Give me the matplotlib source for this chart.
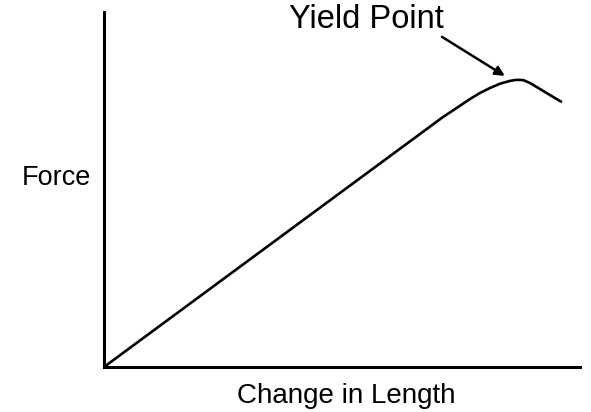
import matplotlib
matplotlib.use("Agg")
import matplotlib.pyplot as plt

plt.rcParams['font.family'] = ['Liberation Sans', 'DejaVu Sans']

# curve (arbitrary units)
length = [0.0, 7.12, 7.48, 7.69, 7.90, 8.11, 8.32, 8.53, 8.67, 8.81, 8.95, 9.16, 9.37, 9.62]
force = [0.0, 7.04, 7.36, 7.55, 7.72, 7.86, 7.98, 8.06, 8.09, 8.08, 8.00, 7.83, 7.66, 7.46]
arrow_tail = (7.10, 9.30)
arrow_head = (8.42, 8.20)

fig = plt.figure(figsize=(5.91, 4.12), dpi=100)
ax = fig.add_axes([104/591, 45/412, 476/591, 355/412])
ax.plot(length, force, color='black', lw=1.9, solid_joinstyle='round',
        solid_capstyle='butt')
ax.set_xlim(0, 10)
ax.set_ylim(0, 10)
for s in ['top', 'right']:
    ax.spines[s].set_visible(False)
for s in ['left', 'bottom']:
    ax.spines[s].set_linewidth(2.2)
ax.set_xticks([])
ax.set_yticks([])

ax.annotate('', xy=arrow_head, xytext=arrow_tail,
            arrowprops=dict(arrowstyle='-|>', color='black', lw=1.8,
                            mutation_scale=14, shrinkA=0, shrinkB=0))

fig.text(289/591, (412-28)/412, 'Yield Point', fontsize=23.5, va='baseline', ha='left')
fig.text(22/591, (412-185)/412, 'Force', fontsize=19.5, va='baseline', ha='left')
fig.text(346/591, (412-403)/412, 'Change in Length', fontsize=20, va='baseline', ha='center')

fig.savefig('out.png', dpi=100)
